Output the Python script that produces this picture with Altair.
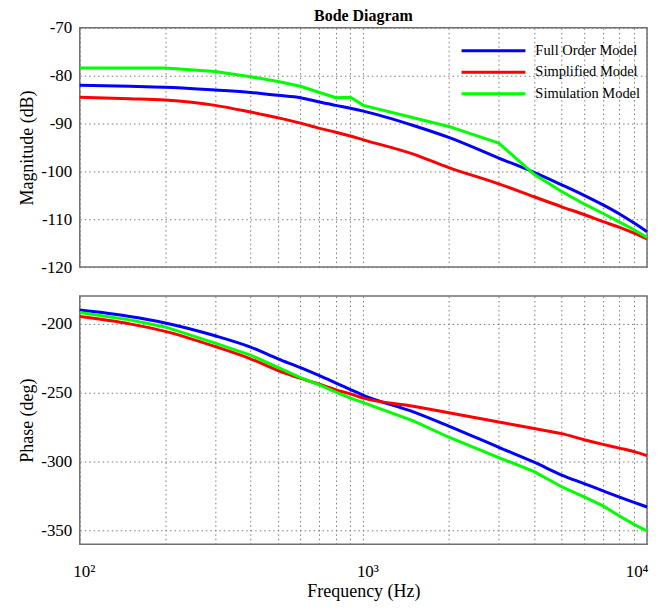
import altair as alt
import pandas as pd

# ---------------- data ----------------
series_names = ["Full Order Model", "Simplified Model", "Simulation Model"]
series_colors = ["#0000ff", "#ff0000", "#00ff00"]

mag_freq = [100, 150, 200, 300, 400, 500, 600, 700, 800, 900, 1000,
            1500, 2000, 3000, 4000, 5000, 6000, 7000, 8000, 9000, 10000]
full_mag = [-82.0, -82.2, -82.4, -83.0, -83.5, -84.1, -84.6, -85.5, -86.2, -86.8, -87.4,
            -90.4, -92.9, -97.2, -100.2, -102.8, -105.0, -107.0, -108.9, -110.8, -112.6]
simp_mag = [-84.5, -84.8, -85.1, -86.2, -87.6, -88.8, -89.9, -91.0, -91.8, -92.6, -93.4,
            -96.4, -99.2, -102.6, -105.3, -107.4, -109.0, -110.5, -111.7, -112.9, -114.1]

sim_mag_freq = [100, 200, 300, 400, 500, 600, 700, 800, 900, 1000,
                2000, 3000, 4000, 5000, 6000, 7000, 8000, 9000, 10000]
sim_mag = [-78.4, -78.4, -79.1, -80.2, -81.2, -82.2, -83.5, -84.6, -84.5, -86.2,
           -90.6, -94.1, -100.6, -104.2, -106.8, -108.8, -110.6, -112.2, -113.8]

phase_freq = [100, 150, 200, 300, 400, 500, 600, 700, 800, 900, 1000,
              1500, 2000, 3000, 4000, 5000, 6000, 7000, 8000, 9000, 10000]
full_phase = [-190.2, -194.8, -199.5, -208.8, -217.0, -225.6, -232.0, -237.8, -243.1, -247.8, -252.0,
              -264.0, -274.3, -289.7, -300.5, -309.8, -316.0, -321.3, -325.8, -329.6, -333.0]
simp_phase = [-194.9, -200.2, -205.6, -216.6, -225.5, -234.0, -239.7, -244.0, -248.0, -251.0, -254.0,
              -259.9, -264.6, -271.3, -276.1, -279.8, -284.2, -287.6, -290.3, -292.8, -295.7]

sim_phase_freq = [100, 150, 200, 300, 400, 500, 600, 700, 800, 900, 1000,
                  1500, 2000, 3000, 4000, 5000, 6000, 7000, 8000, 9000, 10000]
sim_phase = [-192.0, -197.3, -202.4, -214.1, -222.8, -231.8, -239.2, -244.5, -249.7, -254.0, -257.3,
             -270.6, -282.4, -297.1, -307.4, -318.3, -325.6, -332.2, -339.5, -345.6, -350.4]

grid_freqs = [100, 200, 300, 400, 500, 600, 700, 800, 900, 1000,
              2000, 3000, 4000, 5000, 6000, 7000, 8000, 9000, 10000]
mag_ticks = [-120, -110, -100, -90, -80, -70]
phase_ticks = [-350, -300, -250, -200]

# ---------------- tables ----------------
def table(freqs, vals, name, col):
    return pd.DataFrame({"freq": freqs, col: vals, "model": name})

mag_smooth = pd.concat([
    table(mag_freq, full_mag, series_names[0], "mag"),
    table(mag_freq, simp_mag, series_names[1], "mag"),
], ignore_index=True)
mag_sim = table(sim_mag_freq, sim_mag, series_names[2], "mag")

phase_smooth = pd.concat([
    table(phase_freq, full_phase, series_names[0], "phase"),
    table(phase_freq, simp_phase, series_names[1], "phase"),
], ignore_index=True)
phase_sim = table(sim_phase_freq, sim_phase, series_names[2], "phase")

FONT = "Liberation Serif"
W = 569

xscale = alt.Scale(type="log", domain=[100, 10000], nice=False)
cscale = alt.Scale(domain=series_names, range=series_colors)
legend = alt.Legend(
    title=None, orient="none", legendX=407, legendY=15,
    symbolType="M-5,0H5", symbolSize=164, symbolStrokeWidth=3,
    labelFont=FONT, labelFontSize=14.5, labelColor="black",
    labelOffset=34, rowPadding=6.5, padding=0,
)

grid_kw = dict(grid=True, gridColor="#7a7a7a", gridDash=[1.5, 3], gridWidth=1, gridOpacity=1)
ylab = "'' + datum.value"

x_top = alt.X("freq:Q", scale=xscale,
              axis=alt.Axis(values=grid_freqs, labels=False, ticks=False, domain=False,
                            title=None, **grid_kw))
y_top = alt.Y("mag:Q", scale=alt.Scale(domain=[-120, -70], nice=False, zero=False),
              axis=alt.Axis(values=mag_ticks, title="Magnitude (dB)", ticks=False, domain=False,
                            labelExpr=ylab, labelPadding=8, titlePadding=4, **grid_kw))

top_smooth = alt.Chart(mag_smooth).mark_line(strokeWidth=3, interpolate="monotone").encode(
    x=x_top, y=y_top, color=alt.Color("model:N", scale=cscale, legend=legend),
    order=alt.Order("freq:Q"),
)
top_sim = alt.Chart(mag_sim).mark_line(strokeWidth=3, interpolate="linear").encode(
    x=x_top, y=y_top, color=alt.Color("model:N", scale=cscale, legend=legend),
    order=alt.Order("freq:Q"),
)
top = alt.layer(top_smooth, top_sim).properties(
    width=W, height=240,
    title=alt.TitleParams("Bode Diagram", font=FONT, fontSize=16, fontWeight="bold",
                          color="black", anchor="middle", frame="group", offset=-5),
)

x_bot = alt.X("freq:Q", scale=xscale,
              axis=alt.Axis(values=grid_freqs, title="Frequency (Hz)", ticks=False, domain=False,
                            labelExpr="datum.value == 100 ? '10²' : datum.value == 1000 ? '10³' : datum.value == 10000 ? '10⁴' : ''",
                            labelFlush=False,
                            labelAlign={"condition": {"test": "datum.value == 10000", "value": "right"},
                                        "value": "center"},
                            labelOffset={"condition": {"test": "datum.value == 10000", "value": 1},
                                         "value": 4},
                            labelPadding=19, titlePadding=3, **grid_kw))
y_bot = alt.Y("phase:Q", scale=alt.Scale(domain=[-360, -180], nice=False, zero=False),
              axis=alt.Axis(values=phase_ticks, title="Phase (deg)", ticks=False, domain=False,
                            labelExpr=ylab, labelPadding=8, titlePadding=4, **grid_kw))

bot_smooth = alt.Chart(phase_smooth).mark_line(strokeWidth=3, interpolate="monotone").encode(
    x=x_bot, y=y_bot, color=alt.Color("model:N", scale=cscale, legend=None),
    order=alt.Order("freq:Q"),
)
bot_sim = alt.Chart(phase_sim).mark_line(strokeWidth=3, interpolate="linear").encode(
    x=x_bot, y=y_bot, color=alt.Color("model:N", scale=cscale, legend=None),
    order=alt.Order("freq:Q"),
)
bottom = alt.layer(bot_smooth, bot_sim).properties(width=W, height=249)

chart = alt.vconcat(top, bottom, spacing=19).properties(
    padding={"left": 10, "top": -2, "right": 0, "bottom": 0},
    background="white",
).configure_view(
    stroke="#707070", strokeWidth=1.5,
).configure_axis(
    labelFont=FONT, labelFontSize=17, labelColor="black",
    titleFont=FONT, titleFontSize=18, titleColor="black", titleFontWeight="normal",
)

chart.save("out.html", embed_options={"renderer": "svg", "actions": False})
